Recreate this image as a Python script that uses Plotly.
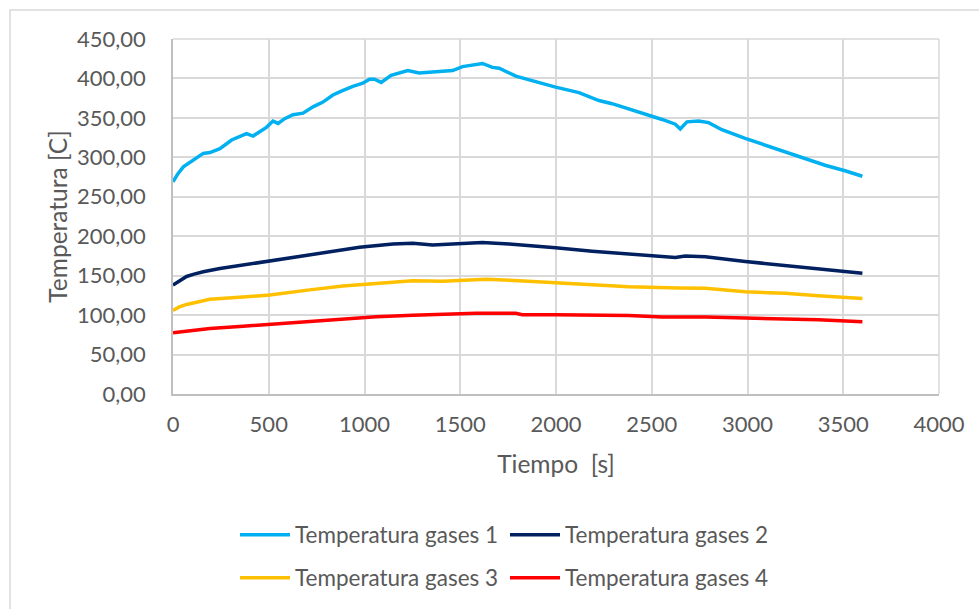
import plotly.graph_objects as go

# Gas temperature logs over one hour of operation
t1 = [0, 25, 54, 85, 115, 158, 193, 245, 306, 350, 384, 418, 453, 488, 522, 549,
      583, 627, 679, 731, 783, 835, 879, 939, 991, 1026, 1052, 1087, 1139, 1226,
      1286, 1373, 1460, 1512, 1582, 1616, 1668, 1703, 1790, 1894, 1998, 2120, 2224,
      2293, 2415, 2554, 2623, 2649, 2684, 2745, 2797, 2866, 2988, 3109, 3248, 3405,
      3509, 3600]
gas1 = [269, 279, 288, 293, 297, 305, 306, 311, 322, 326, 330, 327, 332, 338, 346, 343,
        349, 354, 356, 364, 370, 379, 384, 390, 394, 399, 399, 395, 404, 410,
        407, 408, 410, 415, 417, 419, 414, 413, 403, 396, 389, 382, 372,
        368, 359, 348, 342, 336, 345, 346, 344, 335, 324, 314, 303, 290,
        283, 276]

t2 = [0, 35, 71, 110, 158, 245, 366, 505, 661, 800, 974, 1148, 1252, 1356, 1495,
      1616, 1755, 1911, 1998, 2189, 2380, 2623, 2675, 2780, 2988, 3196, 3370, 3600]
gas2 = [138, 144, 149, 152, 155, 159, 163.5, 168, 174, 180, 186, 190, 191, 189, 191,
        192, 190, 187.5, 185.5, 181, 177.5, 173, 175, 174, 168, 163, 158, 153]

t3 = [0, 30, 71, 193, 366, 505, 714, 887, 1061, 1252, 1408, 1634, 1807, 1998, 2189,
      2380, 2641, 2780, 2988, 3196, 3370, 3600]
gas3 = [106, 110, 113.5, 120, 123, 125.5, 132, 137, 140, 143.5, 143, 145.5, 143.5, 141,
        139.5, 136, 134.5, 134, 129.7, 127.6, 124.6, 121]

t4 = [0, 193, 366, 505, 714, 887, 1061, 1252, 1495, 1582, 1790, 1824, 1998, 2189,
      2380, 2554, 2780, 2988, 3196, 3370, 3600]
gas4 = [77.5, 83, 86, 88.5, 92.5, 95.5, 98, 99.7, 101.4, 102.5, 102.3, 100.5, 100.5, 100,
        99.5, 97.5, 97.5, 96.2, 95, 94, 91.5]

names = ["Temperatura gases 1", "Temperatura gases 2",
         "Temperatura gases 3", "Temperatura gases 4"]
colors = ["#00B0F0", "#002060", "#FFC000", "#FF0000"]

FONT = "Lato"
TXT = "#595959"
GRID = "#D9D9D9"
AXIS = "#BFBFBF"
TICK_SIZE = 22
TITLE_SIZE = 24.5

fig = go.Figure()
series = [(t1, gas1), (t2, gas2), (t3, gas3), (t4, gas4)]
for i, (t, v) in enumerate(series):
    fig.add_trace(go.Scatter(
        x=t, y=v, mode="lines", name=names[i],
        line=dict(color=colors[i], width=3.5),
        legend="legend" if i < 2 else "legend2",
    ))

legend_common = dict(
    orientation="h", xref="container", yref="container",
    xanchor="left", yanchor="middle", x=235 / 979,
    font=dict(family=FONT, size=22.5, color=TXT),
    itemwidth=50, entrywidth=205, entrywidthmode="pixels",
    bgcolor="rgba(0,0,0,0)", tracegroupgap=0,
)

fig.update_layout(
    width=979, height=609,
    margin=dict(l=173, r=40, t=39, b=215),
    paper_bgcolor="white", plot_bgcolor="white",
    separators=",.",
    font=dict(family=FONT, size=TICK_SIZE, color=TXT),
    legend=dict(legend_common, y=1 - 535 / 609),
    legend2=dict(legend_common, y=1 - 578 / 609),
    xaxis=dict(
        range=[0, 4000], dtick=500, tick0=0, tickformat="d",
        showgrid=True, gridcolor=GRID, gridwidth=1.5,
        showline=True, linecolor=AXIS, linewidth=1.5, mirror=False,
        zeroline=False, ticks="", ticklabelstandoff=10,
        tickfont=dict(family=FONT, size=TICK_SIZE, color=TXT),
        title=dict(text="Tiempo \u00a0[s]", standoff=20,
                   font=dict(family=FONT, size=TITLE_SIZE, color=TXT)),
        fixedrange=True,
    ),
    yaxis=dict(
        range=[0, 450], dtick=50, tick0=0, tickformat=".2f",
        showgrid=True, gridcolor=GRID, gridwidth=1.5,
        showline=True, linecolor=AXIS, linewidth=1.5,
        zeroline=False, ticks="", ticklabelstandoff=21,
        tickfont=dict(family=FONT, size=TICK_SIZE, color=TXT),
        title=dict(text="Temperatura [C]", standoff=2,
                   font=dict(family=FONT, size=TITLE_SIZE, color=TXT)),
        fixedrange=True,
    ),
    shapes=[
        # chart frame and plot-area outline
        dict(type="rect", xref="paper", yref="paper",
             x0=-163 / 766, x1=1.2, y0=-0.8, y1=1 + 29 / 355,
             line=dict(color=GRID, width=1.5), layer="below"),
        dict(type="line", xref="paper", yref="paper", x0=1, x1=1, y0=0, y1=1,
             line=dict(color=GRID, width=1.5), layer="below"),
        dict(type="line", xref="paper", yref="paper", x0=0, x1=1, y0=1, y1=1,
             line=dict(color=GRID, width=1.5), layer="below"),
    ],
)

fig.write_html("out.html")
